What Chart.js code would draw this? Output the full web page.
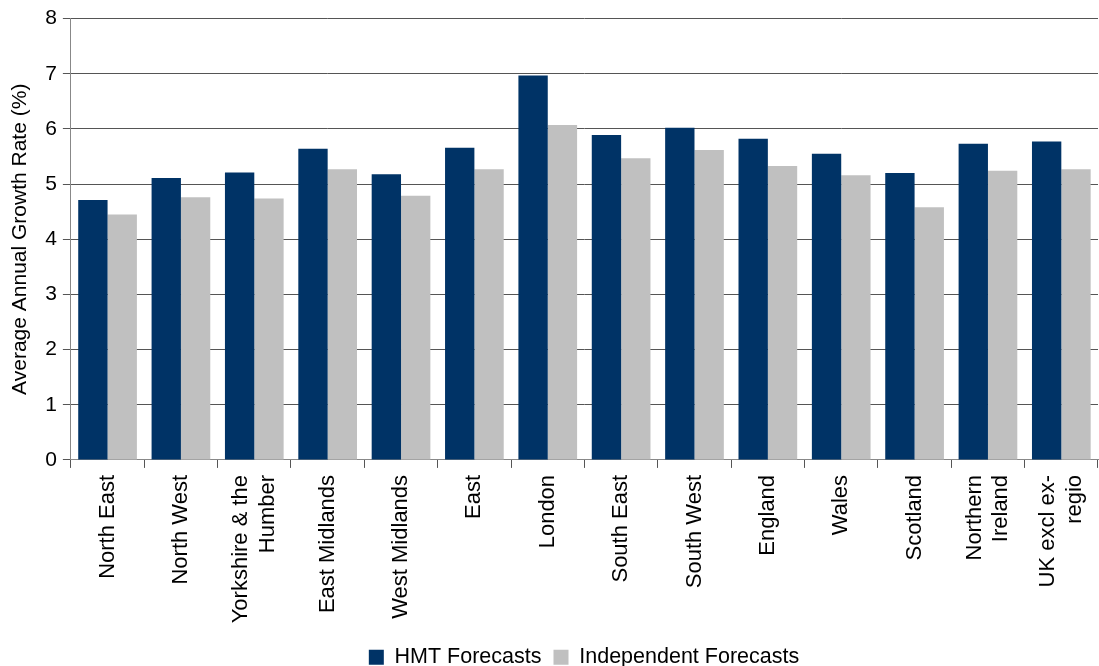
<!DOCTYPE html>
<html>
<head>
<meta charset="utf-8">
<script src="https://cdn.jsdelivr.net/npm/chart.js@4"></script>
<style>
  html, body { margin: 0; padding: 0; background: #fff; }
  #wrap { width: 1099px; height: 666px; }
</style>
</head>
<body>
<div id="wrap"><canvas id="growthChart"></canvas></div>
<script>
const regions = [
    'North East', 'North West', ['Yorkshire & the', 'Humber'], 'East Midlands',
    'West Midlands', 'East', 'London', 'South East', 'South West', 'England',
    'Wales', 'Scotland', ['Northern', 'Ireland'], ['UK excl ex-', 'regio']
];
const hmtForecasts = [4.71, 5.11, 5.21, 5.64, 5.18, 5.66, 6.97, 5.89, 6.02, 5.82, 5.55, 5.20, 5.73, 5.77];
const independentForecasts = [4.45, 4.76, 4.74, 5.27, 4.79, 5.27, 6.07, 5.47, 5.62, 5.33, 5.16, 4.58, 5.24, 5.27];

Chart.defaults.font.family = "'Liberation Sans', Arial, sans-serif";
Chart.defaults.color = '#000';

// Chart.js starts rotated multi-line labels at the tick; centre them instead
const centerMultiLineLabels = {
    id: 'centerMultiLineLabels',
    beforeDraw(chart) {
        const scale = chart.scales.x;
        scale.getLabelItems().forEach(item => {
            if (Array.isArray(item.label) && !item._centered) {
                item.options.translation[0] -= (item.label.length - 1) * item.font.lineHeight / 2;
                item._centered = true;
            }
        });
    }
};

// legend in the original sits a bit right of the page centre
const nudgeLegend = {
    id: 'nudgeLegend',
    afterLayout(chart) {
        chart.legend.left += 31;
        chart.legend.right += 31;
    }
};

new Chart(document.getElementById('growthChart').getContext('2d'), {
    type: 'bar',
    data: {
        labels: regions,
        datasets: [
            {
                label: 'HMT Forecasts',
                data: hmtForecasts,
                backgroundColor: '#003366',
                categoryPercentage: 0.8,
                barPercentage: 1.0
            },
            {
                label: 'Independent Forecasts',
                data: independentForecasts,
                backgroundColor: '#c0c0c0',
                categoryPercentage: 0.8,
                barPercentage: 1.0
            }
        ]
    },
    options: {
        responsive: true,
        maintainAspectRatio: false,
        animation: false,
        layout: { padding: { top: 11, right: 1, left: 8, bottom: -12 } },
        scales: {
            y: {
                min: 0,
                max: 8,
                ticks: { stepSize: 1, font: { size: 21 }, padding: 6 },
                grid: { color: '#555', tickLength: 8, tickColor: '#555' },
                border: { color: '#888' },
                title: {
                    display: true,
                    text: 'Average Annual Growth Rate (%)',
                    font: { size: 21 },
                    padding: { top: 0, bottom: 6 }
                }
            },
            x: {
                ticks: { font: { size: 22 }, minRotation: 90, maxRotation: 90, autoSkip: false, padding: 7 },
                grid: { offset: true, drawOnChartArea: false, tickLength: 8, color: '#555' },
                border: { color: '#888' },
                // the last two-line label should not shrink the plot on the right
                afterFit: (scale) => { scale.paddingRight = 0; }
            }
        },
        plugins: {
            legend: {
                position: 'bottom',
                // blank title only adds space between the axis labels and the legend
                title: { display: true, text: ' ', font: { size: 1 }, padding: 1.5 },
                labels: { font: { size: 21.5 }, boxWidth: 15, boxHeight: 15, padding: 12 }
            },
            tooltip: { enabled: false }
        }
    },
    plugins: [centerMultiLineLabels, nudgeLegend]
});
</script>
</body>
</html>
